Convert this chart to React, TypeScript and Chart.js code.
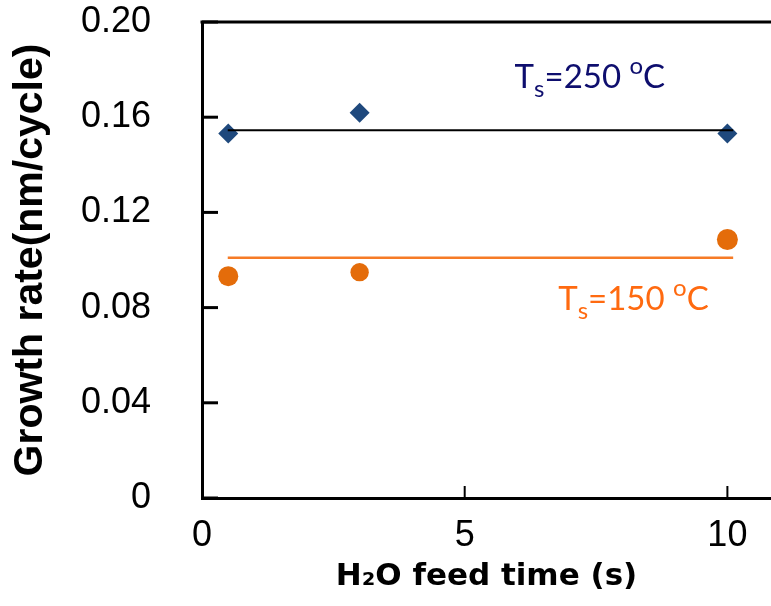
import React, { useEffect, useRef } from "react";
import { Chart, registerables } from "chart.js";

Chart.register(...registerables);

// ---- data ----
const feedTime = [0.5, 3.0, 10.0];
const rate250 = [0.1531, 0.1619, 0.1531];
const rate150 = [0.0932, 0.0949, 0.1086];
const fitX = [0.49, 10.11];
const fit250 = [0.1545, 0.1545];
const fit150 = [0.1009, 0.1009];
const xTicks = [0, 5, 10];
const xTickLabels = ["0", "5", "10"];
const yTicks = [0, 0.04, 0.08, 0.12, 0.16, 0.2];
const yTickLabels = ["0", "0.04", "0.08", "0.12", "0.16", "0.20"];
const xTitle = "H₂O feed time (s)";
const yTitle = "Growth rate(nm/cycle)";
const label250 = ["T", "s", "=250 ", "o", "C"];
const label150 = ["T", "s", "=150 ", "o", "C"];
const label250At = { x: 5.95, y: 0.1721 };
const label150At = { x: 6.78, y: 0.0788 };

const X_MIN = 0;
const X_MAX = 10.83;
const Y_MIN = 0;
const Y_MAX = 0.2;

const pts = (xs: number[], ys: number[]) => xs.map((x, i) => ({ x, y: ys[i] }));

const idx = (arr: number[], v: number) => {
  let best = 0;
  arr.forEach((a, i) => {
    if (Math.abs(a - v) < Math.abs(arr[best] - v)) best = i;
  });
  return best;
};

const framePlugin = {
  id: "frameAndNotes",
  afterDraw(chart: any) {
    const { ctx, chartArea } = chart;
    const xs = chart.scales.x;
    const ys = chart.scales.y;
    ctx.save();
    // top frame line
    ctx.strokeStyle = "#000";
    ctx.lineWidth = 3;
    ctx.beginPath();
    ctx.moveTo(chartArea.left - 1.5, chartArea.top);
    ctx.lineTo(chartArea.right, chartArea.top);
    ctx.stroke();
    // inner y ticks
    ctx.lineWidth = 3;
    ys.ticks.forEach((t: any) => {
      const py = ys.getPixelForValue(t.value);
      ctx.beginPath();
      ctx.moveTo(chartArea.left, py);
      ctx.lineTo(chartArea.left + 16, py);
      ctx.stroke();
    });
    // inner x ticks
    ctx.lineWidth = 2;
    xs.ticks.forEach((t: any) => {
      if (t.value === X_MIN) return;
      const px = xs.getPixelForValue(t.value);
      ctx.beginPath();
      ctx.moveTo(px, chartArea.bottom);
      ctx.lineTo(px, chartArea.bottom - 12);
      ctx.stroke();
    });
    // annotations
    const drawLabel = (parts: string[], at: { x: number; y: number }, color: string) => {
      let x = xs.getPixelForValue(at.x);
      const y = ys.getPixelForValue(at.y);
      const big = "33px Lato";
      const small = "24px Lato";
      const spec: [string, string, number][] = [
        [parts[0], big, 0],
        [parts[1], small, 9],
        [parts[2], big, 0],
        [parts[3], small, -14],
        [parts[4], big, 0],
      ];
      ctx.fillStyle = color;
      ctx.textAlign = "left";
      ctx.textBaseline = "alphabetic";
      for (const [t, f, dy] of spec) {
        ctx.font = f;
        ctx.fillText(t, x, y + dy);
        x += ctx.measureText(t).width;
      }
    };
    drawLabel(label250, label250At, "#0E0E6E");
    drawLabel(label150, label150At, "#FF6A10");
    ctx.restore();
  },
};

export default function App() {
  const ref = useRef<HTMLCanvasElement | null>(null);

  useEffect(() => {
    if (!ref.current) return;
    const chart = new Chart(ref.current, {
      type: "scatter",
      data: {
        datasets: [
          {
            data: pts(fitX, fit250),
            showLine: true,
            borderColor: "#000000",
            borderWidth: 2,
            pointRadius: 0,
          },
          {
            data: pts(fitX, fit150),
            showLine: true,
            borderColor: "#F67B26",
            borderWidth: 2.5,
            pointRadius: 0,
          },
          {
            data: pts(feedTime, rate250),
            pointStyle: "rectRot",
            pointRadius: 10,
            backgroundColor: "#1F497D",
            borderColor: "#1F497D",
            borderWidth: 0,
            showLine: false,
          },
          {
            data: pts(feedTime, rate150),
            pointStyle: "circle",
            pointRadius: [10, 9.2, 10.5],
            backgroundColor: "#E46C0A",
            borderColor: "#E46C0A",
            borderWidth: 0,
            showLine: false,
          },
        ],
      },
      options: {
        animation: false,
        responsive: false,
        devicePixelRatio: 1,
        layout: { autoPadding: false, padding: { top: 22, right: 0, left: 0, bottom: 0 } },
        plugins: { legend: { display: false }, tooltip: { enabled: false } },
        scales: {
          x: {
            type: "linear",
            min: X_MIN,
            max: X_MAX,
            afterBuildTicks: (s: any) => {
              s.ticks = xTicks.map((v) => ({ value: v }));
            },
            afterFit: (s: any) => {
              s.height = 108;
              s.paddingLeft = 0;
              s.paddingRight = 0;
            },
            ticks: {
              callback: (v: any) => xTickLabels[idx(xTicks, Number(v))],
              font: { family: "Liberation Sans", size: 36 },
              color: "#000",
              padding: 0,
              maxRotation: 0,
              autoSkip: false,
            },
            grid: { display: false, drawTicks: true, tickLength: 16 },
            border: { display: true, color: "#000", width: 3 },
            title: {
              display: true,
              text: xTitle,
              font: { family: "DejaVu Sans", size: 31, weight: "bold" },
              color: "#000",
              padding: { top: 0, bottom: 10 },
            },
          },
          y: {
            type: "linear",
            min: Y_MIN,
            max: Y_MAX,
            afterBuildTicks: (s: any) => {
              s.ticks = yTicks.map((v) => ({ value: v }));
            },
            afterFit: (s: any) => {
              s.width = 202;
              s.paddingTop = 0;
              s.paddingBottom = 0;
            },
            ticks: {
              callback: (v: any) => yTickLabels[idx(yTicks, Number(v))],
              font: { family: "Liberation Sans", size: 36 },
              color: "#000",
              padding: 0,
              autoSkip: false,
            },
            grid: { display: false, drawTicks: true, tickLength: 51 },
            border: { display: true, color: "#000", width: 3 },
            title: {
              display: true,
              text: yTitle,
              font: { family: "Liberation Sans", size: 41, weight: "bold" },
              color: "#000",
              padding: { top: 6, bottom: 0 },
            },
          },
        },
      },
      plugins: [framePlugin],
    } as any);
    return () => chart.destroy();
  }, []);

  return (
    <div style={{ position: "fixed", left: 0, top: 0, width: 771, height: 606, background: "#fff" }}>
      <canvas ref={ref} width={771} height={606} style={{ display: "block", width: 771, height: 606 }} />
    </div>
  );
}
